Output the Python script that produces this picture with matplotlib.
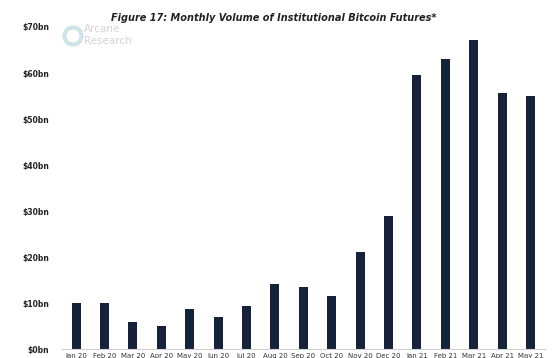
import matplotlib
matplotlib.use("Agg")
import matplotlib.pyplot as plt
from matplotlib.patches import Ellipse

months = ["Jan 20", "Feb 20", "Mar 20", "Apr 20", "May 20", "Jun 20", "Jul 20", "Aug 20",
          "Sep 20", "Oct 20", "Nov 20", "Dec 20", "Jan 21", "Feb 21", "Mar 21", "Apr 21", "May 21"]
volume_bn = [10.0, 10.0, 5.9, 5.0, 8.7, 7.0, 9.3, 14.1, 13.5, 11.5, 21.1, 28.9, 59.6, 63.0, 67.2, 55.7, 55.0]
yticks = [0, 10, 20, 30, 40, 50, 60, 70]
ylabels = [f"${v}bn" for v in yticks]

fig = plt.figure(figsize=(5.53, 3.58), dpi=100)
ax = fig.add_axes([0.112, 0.025, 0.873, 0.8996])
x = range(len(months))
ax.bar(x, volume_bn, width=0.32, color="#16213a")
ax.set_xlim(-0.5, 16.5)
ax.set_ylim(0, 70)
ax.set_yticks(yticks)
ax.set_yticklabels(ylabels, fontsize=5.5, fontweight="bold", color="#222222")
ax.set_xticks(list(x))
ax.set_xticklabels(months, fontsize=5, color="#333333")
ax.tick_params(axis="both", length=0)
ax.tick_params(axis="y", pad=9)
ax.tick_params(axis="x", pad=3)
for s in ["top", "right", "left"]:
    ax.spines[s].set_visible(False)
ax.spines["bottom"].set_color("#d0d0d0")
ax.spines["bottom"].set_linewidth(0.8)

fig.text(0.495, 0.95, "Figure 17: Monthly Volume of Institutional Bitcoin Futures*",
         ha="center", va="center", fontsize=7, fontstyle="italic", fontweight="bold", color="#222222")

# watermark logo
circ = Ellipse((73 / 553, 1 - 36 / 358), 17 / 553, 17 / 358, transform=fig.transFigure,
               fill=False, edgecolor="#cfe4e8", linewidth=3)
fig.add_artist(circ)
fig.text(84 / 553, 1 - 29.5 / 358, "Arcane", fontsize=7.5, color="#d4d4d4", va="center", ha="left")
fig.text(84 / 553, 1 - 41.5 / 358, "Research", fontsize=7.5, color="#d4d4d4", va="center", ha="left")

fig.savefig("out.png", dpi=100)
